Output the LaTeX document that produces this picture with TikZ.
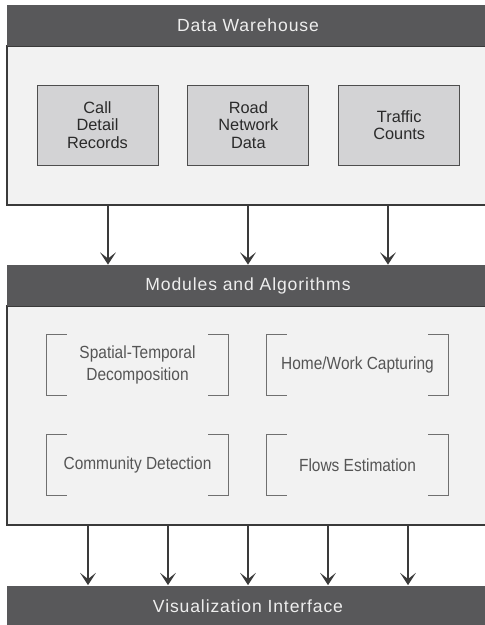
\documentclass[tikz,border=0pt]{standalone}
\usepackage{fontspec}
\setmainfont{Liberation Sans}
\newfontfamily\headfont[LetterSpace=5]{Liberation Sans}
\newfontfamily\modfont[FakeStretch=0.88]{Liberation Sans}
\usetikzlibrary{arrows.meta, positioning}
\definecolor{cHead}{HTML}{58585A}
\definecolor{cHeadText}{HTML}{EEEEEE}
\definecolor{cLayer}{HTML}{F2F2F2}
\definecolor{cBlock}{HTML}{D3D3D5}
\definecolor{cBlockText}{HTML}{2A2A2A}
\definecolor{cModText}{HTML}{555555}
\definecolor{cBracket}{HTML}{707070}
\definecolor{cLine}{HTML}{3A3A3A}
\tikzset{
  head/.style = {
    rectangle,
    fill=cHead,
    text=cHeadText,
    font=\headfont\fontsize{10pt}{12pt}\selectfont,
    minimum width=9.64cm,
    minimum height=0.82cm,
    inner sep=0pt
  },
  layer/.style = {
    rectangle,
    draw=cLine,
    line width=0.7pt,
    fill=cLayer,
    minimum width=9.64cm,
    inner sep=0pt
  },
  block/.style = {
    rectangle,
    draw=cLine!90,
    line width=0.5pt,
    fill=cBlock,
    text=cBlockText,
    align=center,
    font=\fontsize{9.3pt}{10pt}\selectfont,
    minimum width=2.42cm,
    minimum height=1.6cm,
    inner sep=0pt
  },
  module/.style = {
    rectangle,
    text=cModText,
    align=center,
    font=\modfont\fontsize{10pt}{12.3pt}\selectfont,
    minimum width=3.62cm,
    minimum height=1.2cm,
    inner sep=0pt
  },
  bracket/.style = {
    draw=cBracket,
    line width=0.4pt
  },
  flow/.style = {
    draw=cLine,
    line width=0.75pt,
    -{Stealth[length=7pt,width=9pt,inset=3.5pt]}
  },
}
\begin{document}
\begin{tikzpicture}[x=0.02cm, y=-0.02cm]
    \useasboundingbox (0,0) rectangle (484,625);
    \node [layer, minimum height=3.18cm] (dw-body) at (248,125.5) {};
    \node [head] (dw-head) at (248,25.5) {Data Warehouse};
    \node [block] (cdr) at (97.5,125) {Call\\Detail\\Records};
    \node [block, right=0.58cm of cdr] (road) {Road\\Network\\Data};
    \node [block, right=0.58cm of road] (traffic) {Traffic\\Counts};
    \node [layer, minimum height=4.38cm] (mod-body) at (248,415.5) {};
    \node [head] (mod-head) at (248,285.5) {Modules and Algorithms};
    \node [module] (spt) at (137.5,365) {Spatial-Temporal\\Decomposition};
    \node [module] (hwc) at (357.5,365) {Home/Work Capturing};
    \node [module] (cmd) at (137.5,465) {Community Detection};
    \node [module] (fle) at (357.5,465) {Flows Estimation};
    \node [head] (vis-head) at (248,606) {Visualization Interface};
    \foreach \n in {spt, hwc, cmd, fle} {
      \draw [bracket] ([xshift=0.4cm]\n.north west) -- (\n.north west) -- (\n.south west) -- ++(20,0);
      \draw [bracket] ([xshift=-0.4cm]\n.north east) -- (\n.north east) -- (\n.south east) -- ++(-20,0);
    }
    \foreach \dx in {-140, 0, 140}
      \draw [flow] ([xshift=\dx*0.02cm]dw-body.south) -- ([xshift=\dx*0.02cm]mod-head.north);
    \foreach \dx in {-160, -80, 0, 80, 160}
      \draw [flow] ([xshift=\dx*0.02cm]mod-body.south) -- ([xshift=\dx*0.02cm]vis-head.north);
\end{tikzpicture}
\end{document}
